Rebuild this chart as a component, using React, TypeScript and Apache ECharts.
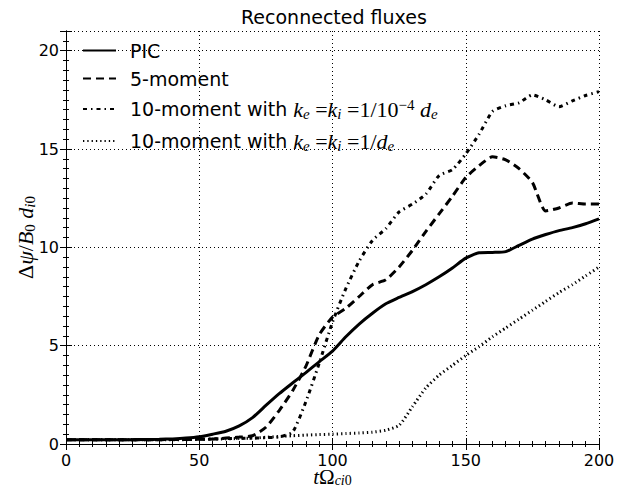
import React, { useEffect, useRef } from "react";
import * as echarts from "echarts";

const titleText = "Reconnected fluxes";
const seriesNames = ["PIC", "5-moment", "10-moment A", "10-moment B"];

const time = [0, 5, 10, 15, 20, 25, 30, 35, 40, 45, 50, 55, 60, 65, 70, 75, 80, 85, 90, 95, 100,
  105, 110, 115, 120, 125, 130, 135, 140, 145, 150, 155, 160, 165, 170, 175, 180, 185, 190, 195, 200];

const pic = [0.22, 0.22, 0.22, 0.22, 0.22, 0.22, 0.23, 0.24, 0.26, 0.3, 0.37, 0.5, 0.65, 0.92, 1.34, 1.96, 2.56, 3.1, 3.63, 4.18, 4.72,
  5.45, 6.1, 6.65, 7.13, 7.45, 7.75, 8.1, 8.5, 8.95, 9.45, 9.72, 9.74, 9.78, 10.1, 10.42, 10.65, 10.85, 11.0, 11.2, 11.45];

const fiveMoment = [0.22, 0.22, 0.22, 0.22, 0.22, 0.22, 0.22, 0.22, 0.23, 0.23, 0.24, 0.25, 0.3, 0.35, 0.42, 0.85, 1.7, 2.7, 3.95, 5.55, 6.45,
  6.9, 7.5, 8.1, 8.35, 9.0, 9.85, 10.8, 11.7, 12.6, 13.55, 14.15, 14.6, 14.45, 14.0, 13.3, 11.85, 12.0, 12.25, 12.2, 12.2];

const tenMomentSmall = [0.22, 0.22, 0.22, 0.22, 0.22, 0.22, 0.22, 0.22, 0.23, 0.24, 0.25, 0.26, 0.28, 0.29, 0.3, 0.32, 0.36, 0.6, 2.15, 4.1, 6.2,
  7.9, 9.3, 10.35, 10.95, 11.8, 12.2, 12.7, 13.65, 13.95, 14.75, 15.75, 16.9, 17.2, 17.35, 17.75, 17.5, 17.15, 17.45, 17.72, 17.92];

const tenMomentDe = [0.22, 0.22, 0.22, 0.22, 0.22, 0.22, 0.22, 0.22, 0.22, 0.22, 0.23, 0.24, 0.26, 0.28, 0.3, 0.34, 0.38, 0.42, 0.45, 0.48, 0.5,
  0.53, 0.56, 0.6, 0.7, 0.95, 1.9, 2.85, 3.5, 4.0, 4.5, 4.95, 5.45, 5.9, 6.35, 6.8, 7.25, 7.7, 8.1, 8.55, 9.0];

const xTicks = { min: 0, max: 200, major: 50, minor: 5 };
const yTicks = { min: 0, max: 21, major: 5, minor: 0.5 };

const SANS = "DejaVu Sans";
const SERIF = "Liberation Serif";

const mathRich = {
  t: { fontFamily: SANS, fontSize: 19, color: "#000", lineHeight: 24 },
  t0: { fontFamily: SANS, fontSize: 19, color: "#000", lineHeight: 24, padding: [0, 0, 0, 9] },
  m: { fontFamily: SERIF, fontStyle: "italic", fontSize: 22, color: "#000", lineHeight: 24 },
  r: { fontFamily: SERIF, fontSize: 22, color: "#000", lineHeight: 24 },
  sub: { fontFamily: SERIF, fontStyle: "italic", fontSize: 15, color: "#000", lineHeight: 13, verticalAlign: "bottom" },
  subr: { fontFamily: SERIF, fontSize: 15, color: "#000", lineHeight: 13, verticalAlign: "bottom" },
  sup: { fontFamily: SERIF, fontSize: 15, color: "#000", lineHeight: 13, verticalAlign: "top" },
};

const xNameRich = {
  m: { fontFamily: SERIF, fontStyle: "italic", fontSize: 21, color: "#000", lineHeight: 20 },
  r: { fontFamily: SERIF, fontSize: 21, color: "#000", lineHeight: 20 },
  sub: { fontFamily: SERIF, fontStyle: "italic", fontSize: 14, color: "#000", lineHeight: 12, verticalAlign: "bottom" },
  subr: { fontFamily: SERIF, fontSize: 14, color: "#000", lineHeight: 12, verticalAlign: "bottom" },
};

function legendLabel(name: string): string {
  if (name === "PIC") return "{t0|PIC}";
  if (name === "5-moment") return "{t0|5-moment}";
  if (name === "10-moment A")
    return "{t0|10-moment with }{m|k}{sub|e}{r| =}{m|k}{sub|i}{r| =1/10}{sup|−4}{m| d}{sub|e}";
  return "{t0|10-moment with }{m|k}{sub|e}{r| =}{m|k}{sub|i}{r| =1/}{m|d}{sub|e}";
}

export default function App() {
  const ref = useRef<HTMLDivElement>(null);
  useEffect(() => {
    document.body.style.margin = "0";
    if (!ref.current) return;
    const chart = echarts.init(ref.current, undefined, { renderer: "svg" });
    const pair = (arr: number[]) => time.map((x, i) => [x, arr[i]]);
    const gridLine = { show: true, lineStyle: { color: "#000", width: 1, type: [1, 3] as any } };
    const frame = { show: true, lineStyle: { color: "#000", width: 1 } };
    const mkX = (pos: string, interval: number, len: number, main: boolean) => ({
      type: "value",
      position: pos,
      min: xTicks.min,
      max: xTicks.max,
      interval,
      axisLine: main ? frame : { show: false },
      axisTick: { show: true, inside: true, length: len, lineStyle: { color: "#000", width: 1 } },
      axisLabel: main && pos === "bottom"
        ? { show: true, fontFamily: SANS, fontSize: 16, color: "#000", margin: 8, lineHeight: 16 }
        : { show: false },
      splitLine: main && pos === "bottom" ? gridLine : { show: false },
    });
    const mkY = (pos: string, interval: number, len: number, main: boolean) => ({
      type: "value",
      position: pos,
      min: yTicks.min,
      max: yTicks.max,
      interval,
      axisLine: main ? frame : { show: false },
      axisTick: { show: true, inside: true, length: len, lineStyle: { color: "#000", width: 1 } },
      axisLabel: main && pos === "left"
        ? {
            show: true, fontFamily: SANS, fontSize: 16, color: "#000", margin: 7,
            formatter: (v: number) => (v % yTicks.major === 0 ? String(v) : ""),
          }
        : { show: false },
      splitLine: main && pos === "left" ? gridLine : { show: false },
    });
    const xMain: any = mkX("bottom", xTicks.major, 6, true);
    xMain.name = "{m|t}{r|Ω}{sub|ci}{subr|0}";
    xMain.nameLocation = "middle";
    xMain.nameGap = 23;
    xMain.nameMoveOverlap = false;
    xMain.nameTextStyle = { rich: xNameRich };
    const yMain: any = mkY("left", yTicks.major, 6, true);
    yMain.name = "{r|Δ}{m|ψ}{r|/}{m|B}{subr|0}{m| d}{sub|i}{subr|0}";
    yMain.nameLocation = "middle";
    yMain.nameGap = 29;
    yMain.nameMoveOverlap = false;
    yMain.nameTextStyle = { rich: mathRich };

    const lineStyles = [
      { color: "#000", width: 3, type: "solid" },
      { color: "#000", width: 3, type: [8, 5] },
      { color: "#000", width: 3, type: [4, 4, 1.5, 4] },
      { color: "#000", width: 3, type: [1.3, 3] },
    ];
    const datasets = [pic, fiveMoment, tenMomentSmall, tenMomentDe];

    chart.setOption({
      animation: false,
      backgroundColor: "#fff",
      title: {
        text: titleText,
        left: 236,
        top: 2,
        textStyle: { fontFamily: SANS, fontSize: 19, fontWeight: "normal", color: "#000" },
      },
      grid: { left: 66, right: 31, top: 31, bottom: 45, outerBoundsMode: "none", containLabel: false },
      legend: {
        orient: "vertical",
        left: 77,
        top: 36,
        itemWidth: 33,
        itemHeight: 14,
        itemGap: 9,
        selectedMode: false,
        data: seriesNames,
        formatter: legendLabel,
        itemStyle: { color: "rgba(0,0,0,0)", borderColor: "rgba(0,0,0,0)", borderWidth: 0, opacity: 0 },
        textStyle: { rich: mathRich, fontFamily: SANS, fontSize: 19, color: "#000" },
      },
      xAxis: [xMain, mkX("bottom", xTicks.minor, 3, false), mkX("top", xTicks.major, 6, true), mkX("top", xTicks.minor, 3, false)],
      yAxis: [yMain, mkY("left", yTicks.minor, 3, false), mkY("right", yTicks.major, 6, true), mkY("right", yTicks.minor, 3, false)],
      series: seriesNames.map((n, i) => ({
        name: n,
        type: "line",
        xAxisIndex: 0,
        yAxisIndex: 0,
        data: pair(datasets[i]),
        symbol: "none",
        showSymbol: false,
        smooth: 0.2,
        lineStyle: lineStyles[i],
        itemStyle: { color: "#000" },
        z: 10 - i,
      })),
    });
    return () => chart.dispose();
  }, []);
  return <div ref={ref} style={{ width: 630, height: 489 }} />;
}
